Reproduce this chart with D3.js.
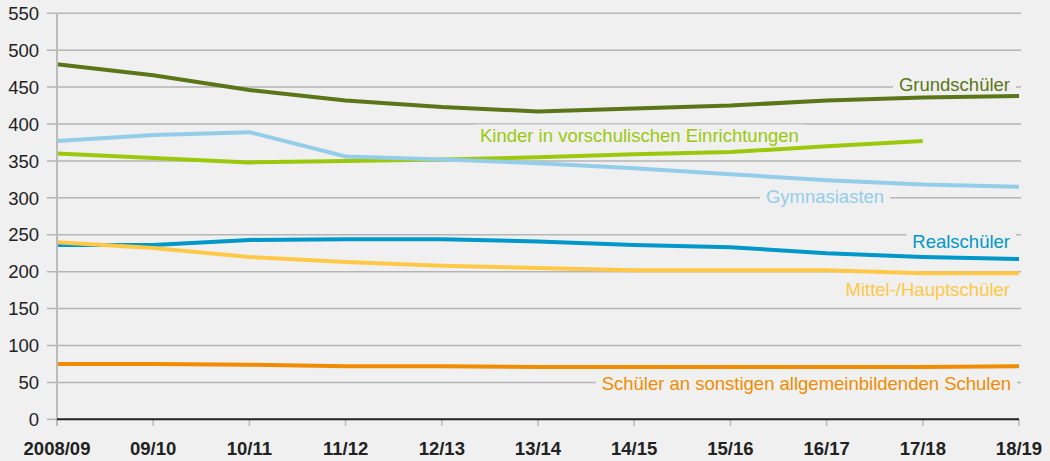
<!DOCTYPE html>
<html>
<head>
<meta charset="utf-8">
<script src="https://cdn.jsdelivr.net/npm/d3@7"></script>
<style>
  body { margin: 0; background: #f0f0f0; }
  svg { display: block; font-family: "Liberation Sans", Arial, sans-serif; }
</style>
</head>
<body>
<svg width="1050" height="461"></svg>
<script>
let years = ["2008/09","09/10","10/11","11/12","12/13","13/14","14/15","15/16","16/17","17/18","18/19"]
let grund = [481,466,446,432,423,417,421,425,432,436,438]
let kinder = [360,354,348,350,352,355,359,362,370,377]
let gymn = [377,385,389,356,352,347,340,332,324,318,315]
let real = [236,236,243,244,244,241,236,233,225,220,217]
let mittel = [240,232,220,213,208,205,202,202,202,198,198]
let sonst = [75,75,74,72,72,71,71,71,71,71,72]
let yTicks = [0,50,100,150,200,250,300,350,400,450,500,550]

let series = [
  {name:"Grundschüler", values:grund, color:"#5b7618", lx:1010, ly:90.5, anchor:"end"},
  {name:"Kinder in vorschulischen Einrichtungen", values:kinder, color:"#9cc80c", lx:480, ly:141.5, anchor:"start"},
  {name:"Gymnasiasten", values:gymn, color:"#94cde9", lx:825, ly:203, anchor:"middle"},
  {name:"Realschüler", values:real, color:"#0097c9", lx:1010, ly:248, anchor:"end"},
  {name:"Mittel-/Hauptschüler", values:mittel, color:"#ffc846", lx:1010, ly:295.5, anchor:"end"},
  {name:"Schüler an sonstigen allgemeinbildenden Schulen", values:sonst, color:"#f18c00", lx:1011, ly:389.5, anchor:"end"}
]

let svg = d3.select("svg")
let x = d3.scalePoint().domain(years).range([57, 1019])
let y = d3.scaleLinear().domain([0, 550]).range([419.3, 13.3])

// gridlines
svg.append("g").selectAll("line")
  .data(yTicks.filter(d => d > 0))
  .join("line")
  .attr("x1", 47).attr("x2", 1021)
  .attr("y1", d => y(d)).attr("y2", d => y(d))
  .attr("stroke", "#b5b5b5").attr("stroke-width", 1.5)

// label backgrounds go here (between gridlines and data lines)
let bgs = svg.append("g")
let linesG = svg.append("g")

// y axis labels
svg.append("g").selectAll("text")
  .data(yTicks)
  .join("text")
  .attr("x", 39).attr("y", d => y(d)).attr("dy", "0.36em")
  .attr("text-anchor", "end")
  .attr("font-size", 18.5).attr("fill", "#222")
  .text(d => d)

// vertical axis line
svg.append("line")
  .attr("x1", 57).attr("x2", 57).attr("y1", 13).attr("y2", 426)
  .attr("stroke", "#bbbbbb").attr("stroke-width", 2)
svg.append("line")
  .attr("x1", 47).attr("x2", 57).attr("y1", y(0)).attr("y2", y(0))
  .attr("stroke", "#b5b5b5").attr("stroke-width", 1.5)

// x ticks
svg.append("g").selectAll("line")
  .data(years.slice(1))
  .join("line")
  .attr("x1", d => x(d)).attr("x2", d => x(d))
  .attr("y1", y(0)).attr("y2", 426)
  .attr("stroke", "#bbbbbb").attr("stroke-width", 1.5)

// zero line
svg.append("line")
  .attr("x1", 57).attr("x2", 1019).attr("y1", y(0)).attr("y2", y(0))
  .attr("stroke", "#222").attr("stroke-width", 2)

// x labels
svg.append("g").selectAll("text")
  .data(years)
  .join("text")
  .attr("x", d => x(d)).attr("y", 455)
  .attr("text-anchor", "middle")
  .attr("font-size", 18.5).attr("font-weight", "bold").attr("fill", "#222")
  .text(d => d)

// series labels
let labels = svg.append("g").selectAll("text")
  .data(series)
  .join("text")
  .attr("x", d => d.lx).attr("y", d => d.ly)
  .attr("text-anchor", d => d.anchor)
  .attr("font-size", 18.5).attr("fill", d => d.color)
  .text(d => d.name)

labels.each(function(d) {
  let b = this.getBBox()
  bgs.append("rect")
    .attr("x", b.x - 6).attr("y", b.y)
    .attr("width", b.width + 12).attr("height", b.height)
    .attr("fill", "#f0f0f0")
})

let line = d3.line().x((d, i) => x(years[i])).y(d => y(d))

linesG.selectAll("path")
  .data(series)
  .join("path")
  .attr("d", d => line(d.values))
  .attr("fill", "none")
  .attr("stroke", d => d.color)
  .attr("stroke-width", 4)
</script>
</body>
</html>
